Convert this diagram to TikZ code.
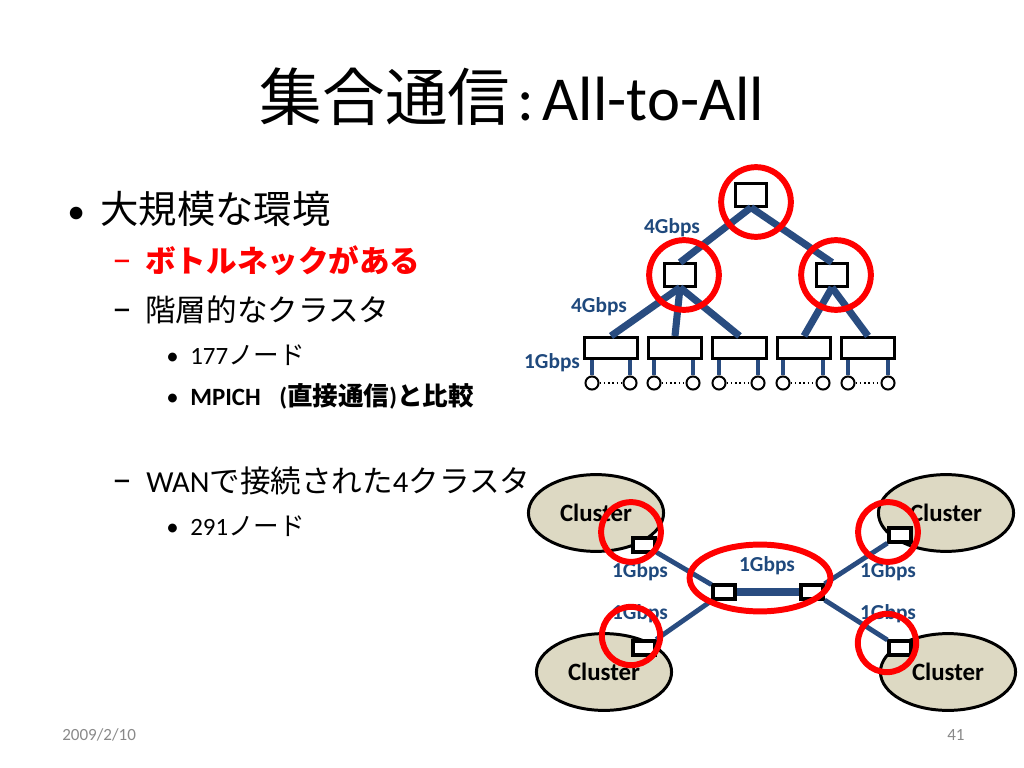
\documentclass[tikz,border=0pt]{standalone}
\usepackage{fontspec}
\setmainfont{Carlito}
\newfontfamily\jpfont{Noto Sans CJK JP}
\usetikzlibrary{shapes.geometric}

\definecolor{linkblue}{RGB}{41,76,128}
\definecolor{labelblue}{RGB}{31,73,125}
\definecolor{clusterfill}{RGB}{221,217,195}
\definecolor{ringred}{RGB}{255,0,0}
\definecolor{footgray}{RGB}{137,137,137}
\newcommand{\jp}[1]{{\jpfont #1}}
\newcommand{\lvone}{\fontsize{27}{32}\selectfont}
\newcommand{\lvtwo}{\fontsize{21.5}{26}\selectfont}
\newcommand{\lvthree}{\fontsize{17.5}{21}\selectfont}
\newcommand{\jpthree}[1]{{\jpfont\fontsize{18}{21}\selectfont #1}}
\newcommand{\subdash}{{\fontsize{28}{30}\selectfont –}}

\tikzset{
  switchbox/.style={draw=black, line width=1.8pt, fill=white, minimum width=21.5pt, minimum height=15.8pt, inner sep=0pt},
  rackbox/.style={switchbox, minimum width=37.6pt, minimum height=15.1pt},
  wanbox/.style={draw=black, line width=2.2pt, fill=white, minimum width=15.5pt, minimum height=9.8pt, inner sep=0pt},
  hostnode/.style={circle, draw=black, line width=1.4pt, fill=white, minimum size=9.2pt, inner sep=0pt},
  uplink/.style={linkblue, line width=5pt},
  hostlink/.style={linkblue, line width=2.8pt},
  wanlink/.style={linkblue, line width=3.4pt},
  hilite/.style={circle, draw=ringred, line width=4.2pt, inner sep=0pt},
  bwlabel/.style={text=labelblue, font=\bfseries\fontsize{15}{18}\selectfont, inner sep=0pt},
  cluster/.style={ellipse, draw=black, line width=2.1pt, fill=clusterfill, minimum width=95pt, minimum height=54pt, inner sep=0pt, font=\bfseries\fontsize{17.5}{21}\selectfont},
  textline/.style={anchor=base west, inner sep=0pt},
}

\begin{document}
\begin{tikzpicture}[x=0.703125pt, y=-0.703125pt]
    \useasboundingbox (0,0) rectangle (1024,768);

    % title and bullets
    \node (title) at (512,97) {\fontsize{44}{53}\selectfont\jp{集合通信}\hspace{5pt}:\hspace{6pt}All-to-All};

    \node (dot1) at (67,223.5) [textline] {\fontsize{25}{30}\selectfont •};
    \node (env) at (100,223.5) [textline] {\lvone\jp{大規模な環境}};
    \node (dash1) at (112,272.5) [textline, text=ringred] {\subdash};
    \node (neck) at (145,272.5) [textline, text=ringred] {\lvtwo\bfseries\jp{ボトルネックがある}};
    \node (dash2) at (112,321.5) [textline] {\subdash};
    \node (hier) at (145,321.5) [textline] {\lvtwo\jp{階層的なクラスタ}};
    \node (dot2) at (166,364) [textline] {\lvthree •};
    \node (n177) at (190,364) [textline] {\lvthree 177\jpthree{ノード}};
    \node (dot3) at (166,405) [textline] {\lvthree •};
    \node (mpich) at (190,405) [textline] {\lvthree\bfseries MPICH\hspace{13pt}(\jpthree{直接通信})\jpthree{と比較}};
    \node (dash3) at (112,492.5) [textline] {\subdash};
    \node (wan) at (146,492.5) [textline] {\lvtwo WAN\jp{で接続された}4\jp{クラスタ}};
    \node (dot4) at (166,535) [textline] {\lvthree •};
    \node (n291) at (190,535) [textline] {\lvthree 291\jpthree{ノード}};

    \node (date) at (62,735) [anchor=west, inner sep=0pt, text=footgray] {\fontsize{12}{14}\selectfont 2009/2/10};
    \node (page) at (947,735) [anchor=west, inner sep=0pt, text=footgray] {\fontsize{12}{14}\selectfont 41};

    % hierarchical cluster
    \node (core) at (751,195) [switchbox] {};
    \node (aggl) at (680,275) [switchbox] {};
    \node (aggr) at (832,275) [switchbox] {};
    \node (rack1) at (611,348) [rackbox] {};
    \node (rack2) at (675,348) [rackbox] {};
    \node (rack3) at (739.5,348) [rackbox] {};
    \node (rack4) at (804,348) [rackbox] {};
    \node (rack5) at (868,348) [rackbox] {};
    \draw[uplink] (core.south) -- (aggl.north);
    \draw[uplink] (core.south) -- (aggr.north);
    \draw[uplink] (aggl.south) -- (rack1.north);
    \draw[uplink] (aggl.south) -- (rack2.north);
    \draw[uplink] (aggl.south) -- (rack3.north);
    \draw[uplink] (aggr.south) -- (rack4.north);
    \draw[uplink] (aggr.south) -- (rack5.north);

    \node (h1a) at (592,383) [hostnode] {};
    \node (h1b) at (630,383) [hostnode] {};
    \node (h2a) at (654,383) [hostnode] {};
    \node (h2b) at (693,383) [hostnode] {};
    \node (h3a) at (719,383) [hostnode] {};
    \node (h3b) at (758,383) [hostnode] {};
    \node (h4a) at (783,383) [hostnode] {};
    \node (h4b) at (823,383) [hostnode] {};
    \node (h5a) at (848,383) [hostnode] {};
    \node (h5b) at (888,383) [hostnode] {};
    \draw[hostlink] (h1a.north) -- (h1a.north |- rack1.south);
    \draw[hostlink] (h1b.north) -- (h1b.north |- rack1.south);
    \draw[hostlink] (h2a.north) -- (h2a.north |- rack2.south);
    \draw[hostlink] (h2b.north) -- (h2b.north |- rack2.south);
    \draw[hostlink] (h3a.north) -- (h3a.north |- rack3.south);
    \draw[hostlink] (h3b.north) -- (h3b.north |- rack3.south);
    \draw[hostlink] (h4a.north) -- (h4a.north |- rack4.south);
    \draw[hostlink] (h4b.north) -- (h4b.north |- rack4.south);
    \draw[hostlink] (h5a.north) -- (h5a.north |- rack5.south);
    \draw[hostlink] (h5b.north) -- (h5b.north |- rack5.south);
    \draw[dotted, line width=1pt] (h1a.east) -- (h1b.west);
    \draw[dotted, line width=1pt] (h2a.east) -- (h2b.west);
    \draw[dotted, line width=1pt] (h3a.east) -- (h3b.west);
    \draw[dotted, line width=1pt] (h4a.east) -- (h4b.west);
    \draw[dotted, line width=1pt] (h5a.east) -- (h5b.west);

    \node (bwcore) at (672,228) [bwlabel] {4Gbps};
    \node (bwagg) at (599,307) [bwlabel] {4Gbps};
    \node (bwhost) at (552,363) [bwlabel] {1Gbps};

    % four clusters over WAN
    \node (cltl) at (596,513) [cluster] {Cluster};
    \node (cltr) at (946,513) [cluster] {Cluster};
    \node (clbl) at (604,672) [cluster] {Cluster};
    \node (clbr) at (948,672) [cluster] {Cluster};

    \node (gwtl) at (644,545) [wanbox] {};
    \node (gwtr) at (900,535) [wanbox] {};
    \node (gwbl) at (644,648) [wanbox] {};
    \node (gwbr) at (900,648) [wanbox] {};
    \node (wanl) at (724,592) [wanbox] {};
    \node (wanr) at (812,592) [wanbox] {};
    \draw[wanlink] (gwtl) -- (wanl);
    \draw[wanlink] (gwbl) -- (wanl);
    \draw[wanlink] (gwtr) -- (wanr);
    \draw[wanlink] (gwbr) -- (wanr);
    \draw[linkblue, line width=5pt] (wanl) -- (wanr);

    \node (bwtl) at (640,572) [bwlabel] {1Gbps};
    \node (bwbl) at (640,614) [bwlabel] {1Gbps};
    \node (bwmid) at (767,566) [bwlabel] {1Gbps};
    \node (bwtr) at (888,572) [bwlabel] {1Gbps};
    \node (bwbr) at (888,614) [bwlabel] {1Gbps};

    % bottlenecks
    \node (hlcore) at (756,202) [hilite, minimum size=49pt] {};
    \node (hlaggl) at (684,275) [hilite, minimum size=49pt] {};
    \node (hlaggr) at (836,275) [hilite, minimum size=49pt] {};
    \node (hltl) at (631,532) [hilite, minimum size=42pt] {};
    \node (hltr) at (888,532) [hilite, minimum size=42pt] {};
    \node (hlbl) at (631,636) [hilite, minimum size=41pt] {};
    \node (hlbr) at (887,643) [hilite, minimum size=41pt] {};
    \node (hlwan) at (760,578) [hilite, ellipse, minimum width=99pt, minimum height=47pt] {};
\end{tikzpicture}
\end{document}
